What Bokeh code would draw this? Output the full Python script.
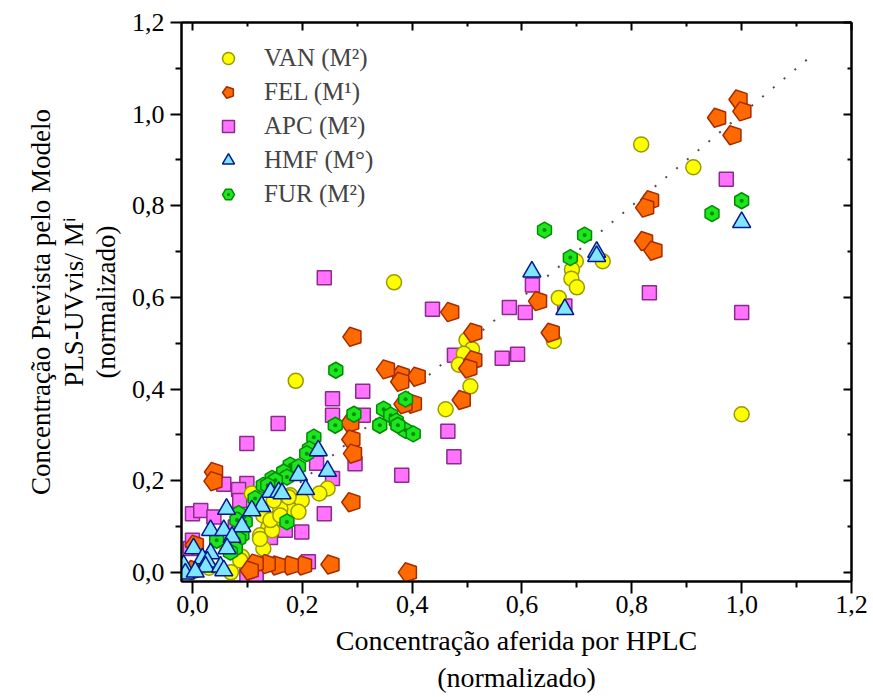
import numpy as np
from bokeh.plotting import figure
from bokeh.models import (Range1d, LinearAxis, FixedTicker, CustomJSTickFormatter,
                          Legend, LegendItem, ColumnDataSource)
from bokeh.embed import file_html
from bokeh.resources import INLINE
try:
    from bokeh.models import Ngon
except ImportError:
    Ngon = None

# ---------------- data ----------------
van_x = [0.817, 0.912, 1.000, 0.747, 0.698, 0.691, 0.690, 0.700, 0.667, 0.658, 0.499, 0.509, 0.494, 0.485,
         0.506, 0.461, 0.367, 0.188,
         0.246, 0.231, 0.178, 0.199, 0.181, 0.193, 0.160, 0.151, 0.129, 0.138, 0.123, 0.108, 0.145, 0.148,
         0.175, 0.142, 0.160, 0.129, 0.123, 0.090, 0.132, 0.087, 0.070, 0.030, 0.062]
van_y = [0.934, 0.884, 0.345, 0.679, 0.679, 0.661, 0.641, 0.622, 0.599, 0.505, 0.507, 0.487, 0.477, 0.453,
         0.406, 0.356, 0.633, 0.418,
         0.183, 0.172, 0.168, 0.157, 0.135, 0.132, 0.139, 0.117, 0.124, 0.098, 0.081, 0.172, 0.092, 0.157,
         0.164, 0.114, 0.124, 0.052, 0.073, 0.034, 0.019, 0.026, 0.000, 0.010, 0.060]

fel_x = [0.995, 1.002, 0.956, 0.984, 0.834, 0.825, 0.823, 0.840, 0.653, 0.630, 0.470, 0.512, 0.512, 0.503,
         0.491, 0.380, 0.409, 0.379, 0.402, 0.385, 0.353, 0.292, 0.288, 0.290, 0.293, 0.290, 0.040, 0.039,
         0.393, 0.252, 0.202, 0.178, 0.154, 0.136, 0.114, 0.105, 0.005, 0.002]
fel_y = [1.032, 1.006, 0.992, 0.954, 0.812, 0.796, 0.723, 0.702, 0.523, 0.592, 0.568, 0.523, 0.463, 0.445,
         0.376, 0.430, 0.427, 0.416, 0.368, 0.367, 0.443, 0.514, 0.326, 0.290, 0.259, 0.153, 0.219, 0.199,
         0.000, 0.017, 0.015, 0.015, 0.015, 0.018, 0.019, 0.004, 0.060, 0.005]

apc_x = [0.972, 0.832, 1.000, 0.619, 0.577, 0.606, 0.678, 0.437, 0.477, 0.564, 0.592, 0.465, 0.476, 0.240,
         0.310, 0.255, 0.255, 0.311, 0.156, 0.099, 0.226, 0.296, 0.255, 0.381, 0.240, 0.057, 0.099, 0.084,
         0.086, 0.000, 0.015, 0.039, 0.078, 0.142, 0.169, 0.199, -0.004, 0.000, 0.099, 0.116, 0.211]
apc_y = [0.858, 0.610, 0.567, 0.627, 0.578, 0.567, 0.581, 0.574, 0.474, 0.467, 0.476, 0.308, 0.252, 0.643,
         0.395, 0.379, 0.343, 0.343, 0.325, 0.281, 0.238, 0.237, 0.205, 0.212, 0.128, 0.192, 0.194, 0.181,
         0.157, 0.128, 0.135, 0.121, 0.099, 0.076, 0.092, 0.088, 0.052, 0.070, -0.007, -0.010, 0.023]

hmf_x = [1.000, 0.736, 0.736, 0.618, 0.678, 0.229, 0.246, 0.193, 0.206, 0.142, 0.157, 0.163, 0.126, 0.108,
         0.090, 0.062, 0.033, 0.057, 0.072, 0.063, 0.002, 0.033, 0.018, 0.027, -0.016, -0.013, 0.024, 0.051,
         0.005, 0.057]
hmf_y = [0.764, 0.699, 0.690, 0.656, 0.574, 0.266, 0.221, 0.212, 0.181, 0.175, 0.175, 0.172, 0.144, 0.135,
         0.100, 0.138, 0.092, 0.092, 0.077, 0.052, 0.052, 0.041, 0.030, 0.023, 0.015, -0.003, 0.012, 0.012,
         0.001, 0.004]

fur_x = [1.000, 0.946, 0.641, 0.714, 0.688, 0.388, 0.388, 0.402, 0.261, 0.294, 0.260, 0.348, 0.361, 0.371,
         0.374, 0.341, 0.221, 0.213, 0.208, 0.178, 0.193, 0.166, 0.172, 0.145, 0.151, 0.129, 0.137, 0.114,
         0.172, 0.096, 0.084, 0.081, 0.090, 0.075, 0.084, 0.078, 0.069, 0.044]
fur_y = [0.811, 0.783, 0.747, 0.736, 0.687, 0.378, 0.310, 0.302, 0.441, 0.345, 0.321, 0.356, 0.343, 0.330,
         0.321, 0.321, 0.295, 0.269, 0.259, 0.234, 0.230, 0.219, 0.208, 0.205, 0.201, 0.190, 0.190, 0.161,
         0.110, 0.110, 0.128, 0.114, 0.081, 0.066, 0.073, 0.052, 0.044, 0.070]

ref_line = [0.0, 1.12]   # identity (y = x) reference line
tick_values = [0.0, 0.2, 0.4, 0.6, 0.8, 1.0, 1.2]
minor_values = [0.1, 0.3, 0.5, 0.7, 0.9, 1.1]
legend_labels = ["VAN (M²)", "FEL (M¹)", "APC (M²)", "HMF (M°)", "FUR (M²)"]
x_title = "Concentração aferida por HPLC\n(normalizado)"
y_title = "Concentração Prevista pelo Modelo\nPLS-UVvis/ Mⁱ\n(normalizado)"

FONT = "Liberation Serif"

p = figure(width=868, height=696, x_range=Range1d(-0.02, 1.2), y_range=Range1d(-0.02, 1.2),
           output_backend="svg", toolbar_location=None,
           min_border_left=181, min_border_top=22, min_border_right=17, min_border_bottom=100)
p.outline_line_color = "black"
p.outline_line_width = 2
p.xgrid.visible = False
p.ygrid.visible = False
p.background_fill_color = "white"
p.border_fill_color = "white"

fmt = CustomJSTickFormatter(code="return tick.toFixed(1).replace('.', ',');")
blank = CustomJSTickFormatter(code="return '';")

for ax in (p.xaxis[0], p.yaxis[0]):
    ax.ticker = FixedTicker(ticks=tick_values, minor_ticks=minor_values)
    ax.formatter = fmt
    ax.major_tick_in = 0
    ax.minor_tick_out = 6
    ax.minor_tick_in = 0
    ax.axis_line_width = 2
    ax.major_tick_line_width = 2
    ax.minor_tick_line_width = 2
    ax.major_label_text_font = FONT
    ax.major_label_text_font_size = "26px"
    ax.major_label_text_color = "black"
    ax.axis_label_text_font = FONT
    ax.axis_label_text_font_style = "normal"
    ax.axis_label_text_color = "black"

p.xaxis[0].axis_label = x_title
p.xaxis[0].major_tick_out = 12
p.xaxis[0].axis_label_text_font_size = "28px"
p.xaxis[0].axis_label_text_line_height = 1.22
p.xaxis[0].axis_label_standoff = 9
p.xaxis[0].major_label_standoff = 2
p.yaxis[0].axis_label = y_title
p.yaxis[0].major_tick_out = 11
p.yaxis[0].axis_label_text_font_size = "27px"
p.yaxis[0].axis_label_text_line_height = 1.08
p.yaxis[0].axis_label_standoff = 8
p.yaxis[0].major_label_standoff = 6

for loc in ("above", "right"):
    ax = LinearAxis(ticker=FixedTicker(ticks=tick_values, minor_ticks=minor_values), formatter=blank,
                    major_label_text_font_size="10px", major_tick_in=8, major_tick_out=0,
                    minor_tick_in=4, minor_tick_out=0, axis_line_width=2,
                    major_tick_line_width=2, minor_tick_line_width=2, major_label_standoff=0)
    p.add_layout(ax, loc)

# identity dotted line
p.line(ref_line, ref_line, line_color="#505050", line_width=2, line_dash="2 12")

LW = 1.5
r_apc = p.scatter(apc_x, apc_y, marker="square", size=14, fill_color="#FF73FF", line_color="#8B2B8B",
                  line_width=LW)
r_van = p.scatter(van_x, van_y, marker="circle", size=15, fill_color="#FFFF00", line_color="#9A9A00",
                  line_width=LW)
if Ngon is not None:
    g = Ngon(x="x", y="y", radius=10, radius_units="screen", n=5, angle=np.pi / 2,
             fill_color="#FF6A00", line_color="#A52A00", line_width=LW)
    r_fel = p.add_glyph(ColumnDataSource(dict(x=fel_x, y=fel_y)), g)
else:
    r_fel = p.scatter(fel_x, fel_y, marker="hex", size=16, fill_color="#FF6A00", line_color="#A52A00",
                      line_width=LW)
r_fur = p.scatter(fur_x, fur_y, marker="hex_dot", size=16, angle=np.pi / 2, fill_color="#1EE61E",
                  line_color="#008C00", line_width=LW)
r_hmf = p.scatter(hmf_x, hmf_y, marker="triangle", size=18, fill_color="#80E5FF", line_color="#001A8C",
                  line_width=LW)

items = [LegendItem(label=lab, renderers=[r]) for lab, r in
         zip(legend_labels, [r_van, r_fel, r_apc, r_hmf, r_fur])]
legend = Legend(items=items, location=(27, 372), border_line_color=None, background_fill_alpha=0,
                label_text_font=FONT, label_text_font_size="25px", glyph_width=40, glyph_height=30,
                spacing=4, margin=0, padding=8, label_standoff=16)
p.add_layout(legend)

open("out.html", "w").write(file_html(p, INLINE))
